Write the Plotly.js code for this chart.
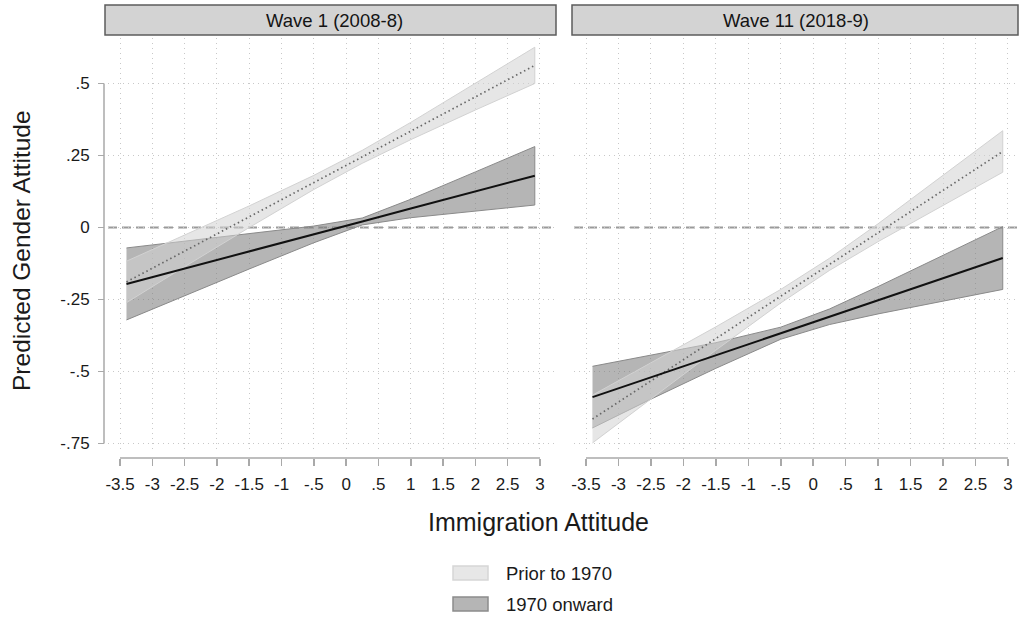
<!DOCTYPE html>
<html>
<head>
<meta charset="utf-8">
<script src="https://cdn.plot.ly/plotly-3.0.1.min.js"></script>
<style>html,body{margin:0;padding:0;background:#fff;}#chart{width:1021px;height:617px;}</style>
</head>
<body>
<div id="chart"></div>
<script>
// ---- Data ----
const panelTitles = ["Wave 1 (2008-8)", "Wave 11 (2018-9)"];
const seriesNames = ["Prior to 1970", "1970 onward"];
const xTickVals = [-3.5, -3, -2.5, -2, -1.5, -1, -0.5, 0, 0.5, 1, 1.5, 2, 2.5, 3];
const xTickText = ["-3.5", "-3", "-2.5", "-2", "-1.5", "-1", "-.5", "0", ".5", "1", "1.5", "2", "2.5", "3"];
const yTickVals = [0.5, 0.25, 0, -0.25, -0.5, -0.75];
const yTickText = [".5", ".25", "0", "-.25", "-.5", "-.75"];

const xVals = [-3.4, -2.5, -1.5, -0.5, 0.25, 1, 2, 2.92];

// Wave 1, prior to 1970
const w1PriorMean = [-0.189, -0.082, 0.038, 0.157, 0.246, 0.335, 0.454, 0.563];
const w1PriorLo   = [-0.261, -0.136, 0.000, 0.132, 0.223, 0.305, 0.408, 0.500];
const w1PriorHi   = [-0.117, -0.027, 0.075, 0.181, 0.268, 0.365, 0.500, 0.626];
// Wave 1, 1970 onward
const w1OnMean = [-0.196, -0.143, -0.083, -0.024, 0.021, 0.066, 0.125, 0.180];
const w1OnLo   = [-0.321, -0.238, -0.144, -0.053, 0.009, 0.034, 0.057, 0.078];
const w1OnHi   = [-0.071, -0.048, -0.022, 0.005, 0.033, 0.098, 0.193, 0.281];
// Wave 11, prior to 1970
const w11PriorMean = [-0.665, -0.533, -0.386, -0.239, -0.128, -0.018, 0.129, 0.264];
const w11PriorLo   = [-0.748, -0.595, -0.426, -0.262, -0.149, -0.049, 0.077, 0.192];
const w11PriorHi   = [-0.582, -0.470, -0.345, -0.215, -0.107, 0.013, 0.181, 0.336];
// Wave 11, 1970 onward
const w11OnMean = [-0.589, -0.520, -0.444, -0.367, -0.310, -0.253, -0.176, -0.106];
const w11OnLo   = [-0.696, -0.596, -0.489, -0.388, -0.337, -0.300, -0.255, -0.215];
const w11OnHi   = [-0.482, -0.444, -0.400, -0.346, -0.283, -0.205, -0.097, 0.003];

// ---- Styles ----
const FONT = "Liberation Sans, Arial, Helvetica, sans-serif";
const TXT = "#1a1a1a";
const lightFill = "rgba(210,210,210,0.55)";
const lightEdge = "#d2d2d2";
const darkFill = "rgba(120,120,120,0.55)";
const darkEdge = "#8a8a8a";
const gridCol = "#c8c8c8";
const axisCol = "#a9a9a9";

function band(xs, lo, hi, fill, edge, xa, ya, name) {
  return {
    type: "scatter", mode: "lines", name: name,
    x: xs.concat(xs.slice().reverse()),
    y: hi.concat(lo.slice().reverse()),
    fill: "toself", fillcolor: fill,
    line: {color: edge, width: 1},
    xaxis: xa, yaxis: ya, showlegend: false, hoverinfo: "skip"
  };
}
function meanLine(xs, ys, dotted, xa, ya, name) {
  return {
    type: "scatter", mode: "lines", name: name, x: xs, y: ys,
    line: dotted ? {color: "#666666", width: 1.7, dash: "1.5px,3px"} : {color: "#111111", width: 2},
    xaxis: xa, yaxis: ya, showlegend: false
  };
}

const traces = [
  band(xVals, w1OnLo, w1OnHi, darkFill, darkEdge, "x", "y", seriesNames[1]),
  band(xVals, w1PriorLo, w1PriorHi, lightFill, lightEdge, "x", "y", seriesNames[0]),
  meanLine(xVals, w1PriorMean, true, "x", "y", seriesNames[0]),
  meanLine(xVals, w1OnMean, false, "x", "y", seriesNames[1]),
  band(xVals, w11OnLo, w11OnHi, darkFill, darkEdge, "x2", "y2", seriesNames[1]),
  band(xVals, w11PriorLo, w11PriorHi, lightFill, lightEdge, "x2", "y2", seriesNames[0]),
  meanLine(xVals, w11PriorMean, true, "x2", "y2", seriesNames[0]),
  meanLine(xVals, w11OnMean, false, "x2", "y2", seriesNames[1])
];

const W = 1021, H = 617;
const px = v => v / W;
const py = v => 1 - v / H;
const xAxisPos = py(458);

const xCommon = {
  tickmode: "array", tickvals: xTickVals, ticktext: xTickText,
  ticks: "outside", ticklen: 7, tickwidth: 1.5, tickcolor: axisCol,
  ticklabelstandoff: 4,
  tickfont: {family: FONT, size: 17, color: TXT},
  showline: false, zeroline: false,
  showgrid: true, gridcolor: gridCol, gridwidth: 1, griddash: "1px,4px",
  anchor: "free", position: xAxisPos, fixedrange: true
};
const yCommon = {
  tickmode: "array", tickvals: yTickVals, ticktext: yTickText,
  range: [-0.783, 0.658],
  domain: [py(453), py(38)],
  showline: false, zeroline: false,
  showgrid: true, gridcolor: gridCol, gridwidth: 1, griddash: "1px,4px",
  tickfont: {family: FONT, size: 17, color: TXT}, fixedrange: true
};

const layout = {
  width: W, height: H,
  margin: {l: 0, r: 0, t: 0, b: 0},
  paper_bgcolor: "#ffffff", plot_bgcolor: "#ffffff",
  showlegend: false,
  font: {family: FONT, color: TXT},
  xaxis: Object.assign({}, xCommon, {domain: [px(108), px(556)], range: [-3.686, 3.248]}),
  xaxis2: Object.assign({}, xCommon, {domain: [px(574), px(1018)], range: [-3.685, 3.155]}),
  yaxis: Object.assign({}, yCommon, {
    anchor: "free", position: px(104),
    ticks: "outside", ticklen: 6, tickwidth: 1.5, tickcolor: axisCol, ticklabelstandoff: 5
  }),
  yaxis2: Object.assign({}, yCommon, {anchor: "x2", ticks: "", showticklabels: false}),
  shapes: [
    // zero reference lines
    {type: "line", xref: "x domain", yref: "y", x0: 0, x1: 1, y0: 0, y1: 0, layer: "below",
     line: {color: "#9a9a9a", width: 2, dash: "9px,5px"}},
    {type: "line", xref: "x2 domain", yref: "y2", x0: 0, x1: 1, y0: 0, y1: 0, layer: "below",
     line: {color: "#9a9a9a", width: 2, dash: "9px,5px"}},
    // axis lines spanning the tick range
    {type: "line", xref: "x", yref: "paper", x0: xTickVals[0], x1: xTickVals[xTickVals.length - 1],
     y0: xAxisPos, y1: xAxisPos, line: {color: axisCol, width: 1.5}},
    {type: "line", xref: "x2", yref: "paper", x0: xTickVals[0], x1: xTickVals[xTickVals.length - 1],
     y0: xAxisPos, y1: xAxisPos, line: {color: axisCol, width: 1.5}},
    {type: "line", xref: "paper", yref: "y", x0: px(104), x1: px(104),
     y0: yTickVals[yTickVals.length - 1], y1: yTickVals[0], line: {color: axisCol, width: 1.5}},
    // panel header strips
    {type: "rect", xref: "paper", yref: "paper", x0: px(105), x1: px(556), y0: py(35), y1: py(5),
     fillcolor: "#d3d3d3", line: {color: "#5c5c5c", width: 1.5}},
    {type: "rect", xref: "paper", yref: "paper", x0: px(572), x1: px(1018), y0: py(35), y1: py(5),
     fillcolor: "#d3d3d3", line: {color: "#5c5c5c", width: 1.5}},
    // legend swatches
    {type: "rect", xref: "paper", yref: "paper", x0: px(453), x1: px(488), y0: py(580), y1: py(566),
     fillcolor: "#e7e7e7", line: {color: "#d6d6d6", width: 1.5}},
    {type: "rect", xref: "paper", yref: "paper", x0: px(453), x1: px(488), y0: py(611), y1: py(597),
     fillcolor: "#b5b5b5", line: {color: "#8c8c8c", width: 1.5}}
  ],
  annotations: [
    {text: panelTitles[0], xref: "paper", yref: "paper", x: px(334), y: py(20), showarrow: false,
     xanchor: "center", yanchor: "middle", font: {family: FONT, size: 18.5, color: "#141414"}},
    {text: panelTitles[1], xref: "paper", yref: "paper", x: px(796), y: py(20), showarrow: false,
     xanchor: "center", yanchor: "middle", font: {family: FONT, size: 18.5, color: "#141414"}},
    {text: "Predicted Gender Attitude", xref: "paper", yref: "paper", x: px(22), y: py(251),
     textangle: -90, showarrow: false, xanchor: "center", yanchor: "middle",
     font: {family: FONT, size: 24.5, color: TXT}},
    {text: "Immigration Attitude", xref: "paper", yref: "paper", x: px(538), y: py(522),
     showarrow: false, xanchor: "center", yanchor: "middle",
     font: {family: FONT, size: 25, color: TXT}},
    {text: seriesNames[0], xref: "paper", yref: "paper", x: px(504), y: py(573),
     showarrow: false, xanchor: "left", yanchor: "middle", font: {family: FONT, size: 18.5, color: TXT}},
    {text: seriesNames[1], xref: "paper", yref: "paper", x: px(504), y: py(604),
     showarrow: false, xanchor: "left", yanchor: "middle", font: {family: FONT, size: 18.5, color: TXT}}
  ]
};

Plotly.newPlot("chart", traces, layout, {displayModeBar: false, staticPlot: true});
</script>
</body>
</html>
